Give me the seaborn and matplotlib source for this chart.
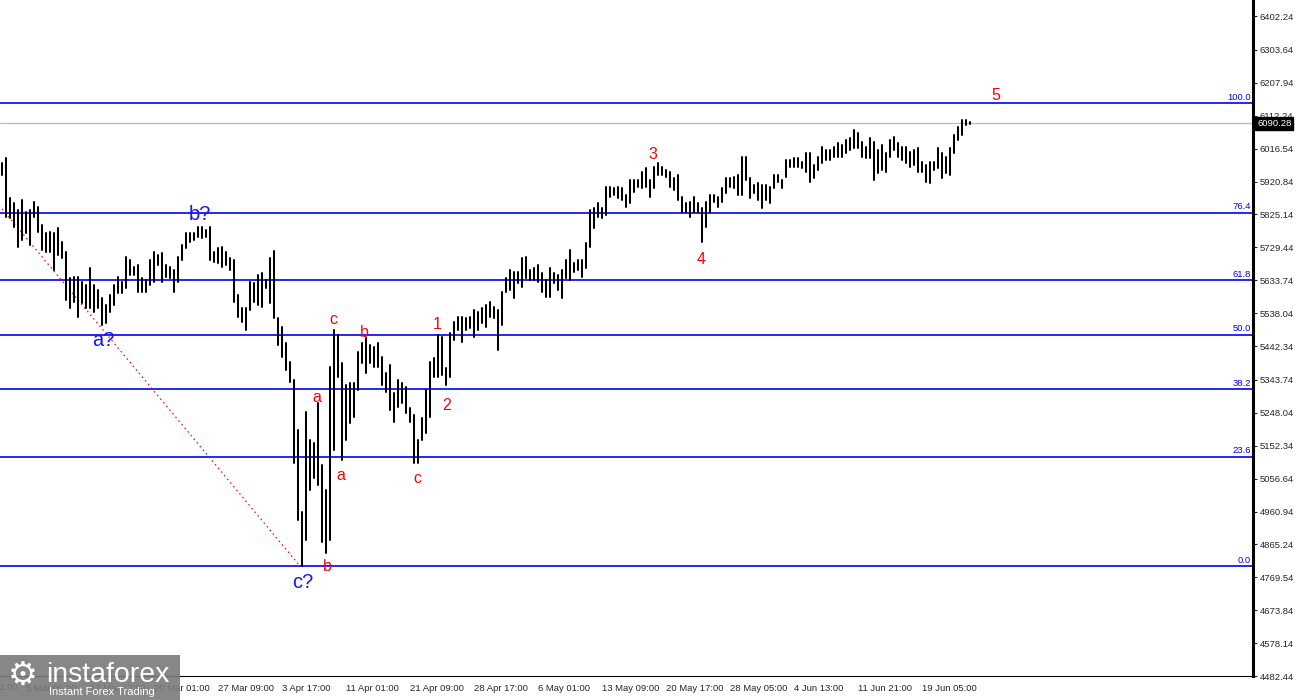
import numpy as np
import pandas as pd
import seaborn as sns
from matplotlib import pyplot as plt
from matplotlib import transforms
from matplotlib.patches import Rectangle

# Bar highs / lows (one bar per ~2 source bars)
highs = [5975, 5989, 5873, 5858, 5838, 5867, 5832, 5838, 5861, 5847,
         5794, 5771, 5774, 5771, 5786, 5745, 5716, 5640, 5643, 5643,
         5628, 5620, 5669, 5620, 5605, 5582, 5562, 5591, 5620, 5643,
         5628, 5701, 5692, 5672, 5678, 5640, 5634, 5692, 5716, 5707,
         5713, 5678, 5672, 5663, 5701, 5736, 5771, 5771, 5771, 5788,
         5788, 5780, 5788, 5716, 5727, 5730, 5716, 5698, 5692, 5591,
         5553, 5553, 5628, 5626, 5649, 5655, 5634, 5698, 5719, 5524,
         5498, 5451, 5396, 5343, 5198, 4959, 5250, 5169, 5160, 5276,
         5096, 5023, 5381, 5489, 5474, 5393, 5329, 5335, 5335, 5425,
         5451, 5466, 5445, 5439, 5451, 5410, 5364, 5387, 5306, 5343,
         5335, 5323, 5262, 5241, 5169, 5233, 5314, 5396, 5407, 5474,
         5468, 5378, 5480, 5512, 5527, 5527, 5524, 5527, 5547, 5541,
         5553, 5562, 5570, 5556, 5547, 5599, 5640, 5663, 5658, 5658,
         5698, 5701, 5663, 5669, 5678, 5655, 5634, 5669, 5655, 5649,
         5663, 5692, 5722, 5684, 5692, 5692, 5742, 5838, 5844, 5858,
         5844, 5905, 5905, 5902, 5905, 5902, 5881, 5925, 5925, 5925,
         5948, 5960, 5925, 5963, 5975, 5963, 5954, 5948, 5931, 5940,
         5876, 5858, 5861, 5876, 5858, 5844, 5861, 5881, 5881, 5876,
         5902, 5931, 5931, 5934, 5940, 5992, 5992, 5931, 5911, 5916,
         5911, 5911, 5905, 5940, 5940, 5925, 5983, 5983, 5989, 5989,
         5978, 6004, 6004, 5969, 5992, 6021, 6012, 6012, 6021, 6033,
         6027, 6042, 6047, 6071, 6062, 6036, 6021, 6047, 6036, 6012,
         6027, 6004, 6042, 6050, 6033, 6021, 6021, 6007, 6012, 6018,
         5978, 5969, 5978, 5978, 6018, 6004, 5992, 6018, 6056, 6079,
         6100, 6100, 6094]
lows = [5940, 5818, 5815, 5788, 5730, 5751, 5771, 5736, 5818, 5774,
        5722, 5716, 5716, 5663, 5707, 5698, 5576, 5553, 5570, 5527,
        5567, 5553, 5553, 5541, 5553, 5503, 5509, 5541, 5562, 5596,
        5596, 5611, 5649, 5649, 5599, 5599, 5599, 5620, 5628, 5678,
        5628, 5643, 5640, 5599, 5628, 5692, 5727, 5745, 5751, 5759,
        5756, 5759, 5692, 5687, 5684, 5672, 5678, 5663, 5570, 5527,
        5512, 5489, 5547, 5570, 5562, 5556, 5611, 5567, 5524, 5445,
        5410, 5372, 5338, 5102, 4936, 4802, 4878, 5023, 5058, 5038,
        4872, 4840, 4878, 5140, 5352, 5111, 5169, 5218, 5236, 5314,
        5393, 5364, 5393, 5381, 5381, 5329, 5308, 5256, 5221, 5265,
        5276, 5247, 5221, 5102, 5102, 5169, 5189, 5236, 5352, 5352,
        5358, 5329, 5352, 5460, 5489, 5454, 5489, 5495, 5468, 5489,
        5509, 5498, 5527, 5524, 5431, 5503, 5599, 5605, 5582, 5626,
        5614, 5640, 5634, 5634, 5628, 5599, 5585, 5585, 5626, 5605,
        5582, 5640, 5634, 5658, 5663, 5643, 5669, 5730, 5786, 5818,
        5815, 5823, 5876, 5881, 5873, 5867, 5847, 5858, 5890, 5905,
        5902, 5905, 5876, 5902, 5940, 5940, 5934, 5905, 5896, 5867,
        5832, 5832, 5818, 5832, 5832, 5745, 5788, 5832, 5861, 5847,
        5861, 5887, 5905, 5902, 5881, 5881, 5925, 5873, 5887, 5867,
        5844, 5867, 5858, 5902, 5919, 5902, 5934, 5963, 5963, 5963,
        5960, 5948, 5919, 5931, 5954, 5975, 5983, 5983, 5992, 5992,
        5992, 6004, 6012, 6018, 6018, 5992, 5989, 5989, 5925, 5946,
        5954, 5948, 5992, 6012, 5992, 5983, 5975, 5963, 5969, 5948,
        5948, 5919, 5916, 5954, 5960, 5931, 5946, 5940, 6004, 6042,
        6056, 6085, 6088]

last_price = 6090.28

# Fibonacci grid: swing low / high and where they sit on the bar axis
fib_low, fib_high = 4802.4, 6148.0
fib_bars = [-22.0, 74.5]
fib_ratios = [0.0, 23.6, 38.2, 50.0, 61.8, 76.4, 100.0]

price_ticks = [6402.24, 6303.64, 6207.94, 6112.24, 6016.54, 5920.84, 5825.14,
               5729.44, 5633.74, 5538.04, 5442.34, 5343.74, 5248.04, 5152.34,
               5056.64, 4960.94, 4865.24, 4769.54, 4673.84, 4578.14, 4482.44]
time_labels = ['5 Mar 09:00', '12 Mar 17:00', '20 Mar 01:00', '27 Mar 09:00',
               '3 Apr 17:00', '11 Apr 01:00', '21 Apr 09:00', '28 Apr 17:00',
               '6 May 01:00', '13 May 09:00', '20 May 17:00', '28 May 05:00',
               '4 Jun 13:00', '11 Jun 21:00', '19 Jun 05:00']
time_bars = [5.5 + 16 * k for k in range(len(time_labels))]

# wave marks
blue_waves = ['a?', 'b?', 'c?']
blue_x = [25.25, 49.5, 75.25]
blue_y = [5442, 5809, 4738]
red_waves = ['a', 'c', 'b', 'a', 'b', 'c', '1', '2', '3', '4', '5']
red_x = [78.75, 82.9, 90.6, 84.75, 81.25, 103.75, 108.75, 111.25, 162.75, 174.75, 248.5]
red_y = [5279, 5506, 5468, 5052, 4788, 5044, 5492, 5256, 5986, 5681, 6158]

sns.set_style('white')
plt.rcParams['font.family'] = ['Liberation Sans', 'DejaVu Sans']

fig = plt.figure(figsize=(13, 7), dpi=100)
ax = fig.add_axes([0, 24 / 700, 1253 / 1300, 676 / 700])

# bars as low->high segments, one unit per bar
n = len(highs)
bars = pd.DataFrame({'bar': np.repeat(np.arange(n), 2),
                     'price': np.column_stack([lows, highs]).ravel()})
sns.lineplot(data=bars, x='bar', y='price', units='bar', estimator=None,
             sort=False, color='black', lw=1.45, ax=ax, legend=False, zorder=3)

# Fibonacci levels
blend = transforms.blended_transform_factory(ax.transAxes, ax.transData)
for r in fib_ratios:
    lvl = fib_low + (fib_high - fib_low) * r / 100
    ax.axhline(lvl, color='#0000ff', lw=1.2, zorder=2)
    ax.text(0.9985, lvl + 4, f'{r:.1f}', transform=blend, ha='right', va='bottom',
            color='#0000ff', fontsize=6.8)
ax.plot(fib_bars, [fib_high, fib_low], color='red', lw=0.9, ls=(0, (1.2, 2.6)), zorder=2)

ax.axhline(last_price, color='#c0c0c0', lw=1, zorder=1)

for s, x, y in zip(blue_waves, blue_x, blue_y):
    ax.text(x, y, s, color='#1414ff', fontsize=14.5, ha='center', va='baseline', zorder=5)
for s, x, y in zip(red_waves, red_x, red_y):
    ax.text(x, y, s, color='#ff0000', fontsize=11.5, ha='center', va='baseline', zorder=5)

ax.set_xlim(-0.5, 312.75)
ax.set_ylim(4482.44, 6448.8)
ax.set_xlabel('')
ax.set_ylabel('')
ax.yaxis.tick_right()
ax.set_yticks(price_ticks, [f'{v:.2f}' for v in price_ticks])
ax.set_xticks(time_bars, time_labels, ha='left')
ax.tick_params(axis='y', direction='out', length=3, width=0.8, labelsize=6.8, pad=2)
ax.tick_params(axis='x', direction='out', length=4, width=0.8, labelsize=6.8, pad=2)
shift = transforms.ScaledTranslation(2 / 100, 0, fig.dpi_scale_trans)
for lbl in ax.get_xticklabels():
    lbl.set_transform(lbl.get_transform() + shift)

for side in ['top', 'left']:
    ax.spines[side].set_visible(False)
ax.spines['right'].set_linewidth(2.2)
ax.spines['right'].set_color('black')
ax.spines['bottom'].set_linewidth(0.8)
ax.spines['bottom'].set_color('black')

ax.annotate(f'{last_price:.2f}', xy=(1, last_price), xycoords=('axes fraction', 'data'),
            xytext=(3, 0), textcoords='offset points', ha='left', va='center',
            color='white', fontsize=6.8, annotation_clip=False, zorder=20,
            bbox=dict(boxstyle='square,pad=0.2', fc='black', ec='black'))

# label cut at the left edge
fig.text(-38 / 1300, 17 / 700, '26 Feb 01:00', ha='left', va='top', fontsize=6.8)

# watermark
fig.add_artist(Rectangle((0, 0), 180 / 1300, 45 / 700, transform=fig.transFigure,
                         fc='#7a7a7a', ec='none', alpha=0.9, zorder=10))
fig.text(23 / 1300, 25 / 700, '\u2699', fontsize=24, color='white', ha='center',
         va='center', family='DejaVu Sans', zorder=11)
fig.text(46 / 1300, 18 / 700, 'instaforex', fontsize=20.5, color='white',
         ha='left', va='baseline', zorder=11)
fig.text(49 / 1300, 5 / 700, 'Instant Forex Trading', fontsize=8, color='white',
         ha='left', va='baseline', zorder=11)

fig.savefig('out.png', dpi=100)
